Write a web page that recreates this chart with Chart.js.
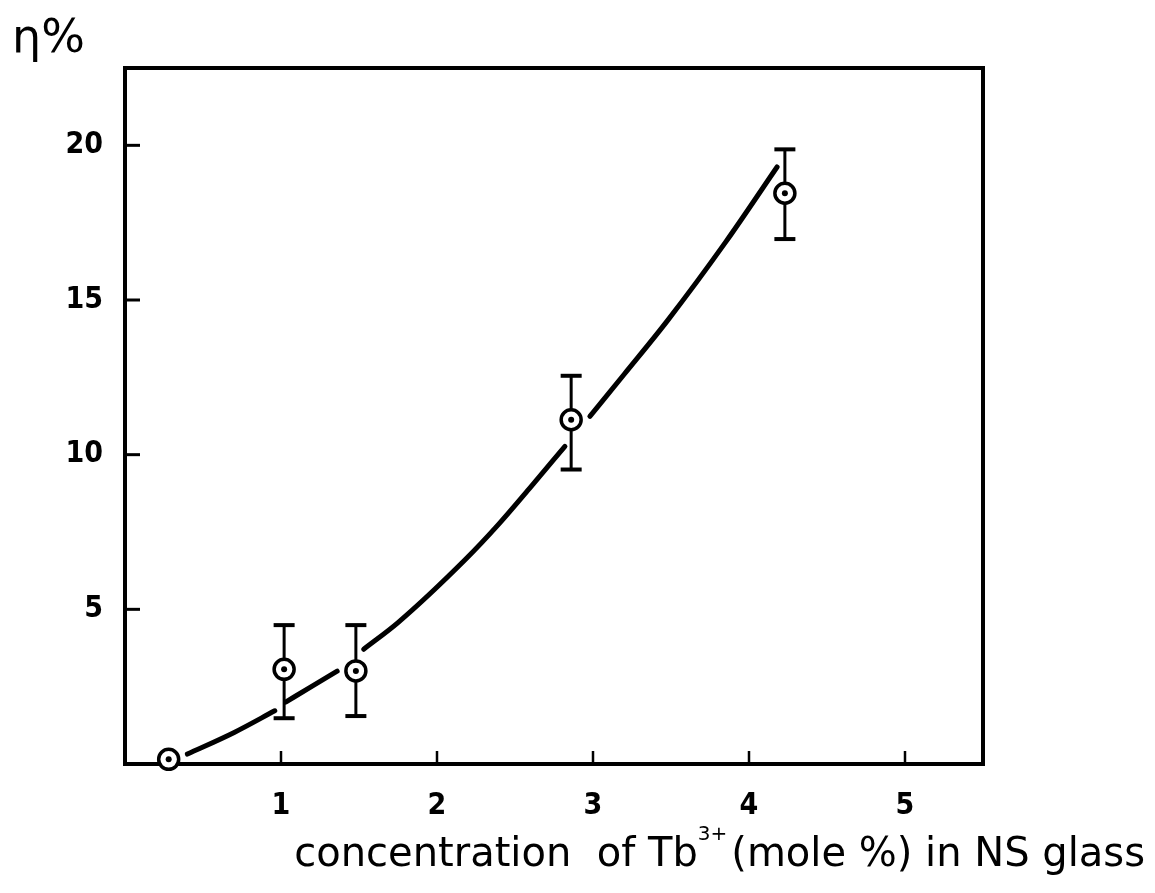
<!DOCTYPE html>
<html>
<head>
<meta charset="utf-8">
<script src="https://cdn.jsdelivr.net/npm/chart.js@4/dist/chart.umd.min.js"></script>
<style>
  html, body { margin: 0; padding: 0; background: #fff; }
  #wrap { width: 1155px; height: 893px; }
</style>
</head>
<body>
<div id="wrap"><canvas id="c" width="1155" height="893"></canvas></div>
<script>
// ---- data ----
const xTicks = [1, 2, 3, 4, 5];
const yTicks = [5, 10, 15, 20];
const concentration = [0.28, 1.02, 1.48, 2.86, 4.23];      // Tb3+ mole %
const efficiency    = [0.15, 3.06, 3.01, 11.13, 18.45];     // eta %
const errLow        = [null, 1.48, 1.55, 9.52, 16.97];
const errHigh       = [null, 4.49, 4.49, 12.55, 19.87];
// hand-drawn fit curve (broken where it passes the markers); null = gap
const curveX = [0.40, 0.70, 0.96, null, 1.03, 1.20, 1.36, null, 1.53, 1.75, 2.18, 2.39, 2.60, 2.82, null, 2.98, 3.20, 3.48, 3.85, 4.18];
const curveY = [0.32, 1.02, 1.72, null, 2.00, 2.52, 3.00, null, 3.71, 4.57, 6.60, 7.72, 8.95, 10.27, null, 11.24, 12.60, 14.35, 16.87, 19.30];
const yTitle = 'η%';
const xTitleA = 'concentration  of Tb';
const xTitleSup = '3+';
const xTitleB = '(mole %) in NS glass';

// ---- build datasets ----
let lastX = 0;
const curveData = curveX.map((x, i) => {
  if (x === null) return { x: lastX, y: null };
  lastX = x;
  return { x: x, y: curveY[i] };
});
const pointData = concentration.map((x, i) => ({ x: x, y: efficiency[i] }));

const datasets = [];
// center dots (top)
datasets.push({
  data: pointData, showLine: false, pointRadius: 3, pointHoverRadius: 3,
  pointBackgroundColor: '#000', pointBorderWidth: 0, order: 0, clip: false
});
// open circles
datasets.push({
  data: pointData, showLine: false, pointRadius: 10, pointHoverRadius: 10,
  pointBackgroundColor: '#fff', pointBorderColor: '#000', pointBorderWidth: 3.5, order: 1, clip: false
});
// error bars
concentration.forEach((x, i) => {
  if (errLow[i] === null) return;
  datasets.push({
    data: [{ x: x, y: errLow[i] }, { x: x, y: errHigh[i] }],
    showLine: true, borderColor: '#000', borderWidth: 3,
    pointStyle: 'line', pointRadius: 10.5, pointHoverRadius: 10.5,
    pointBorderColor: '#000', pointBorderWidth: 4, order: 2
  });
});
// curve
datasets.push({
  data: curveData, showLine: true, spanGaps: false, borderColor: '#000', borderWidth: 5,
  borderCapStyle: 'round', cubicInterpolationMode: 'monotone', pointRadius: 0, order: 3
});

const framePlugin = {
  id: 'frame',
  beforeDatasetsDraw(chart) {
    const { ctx, chartArea: a, scales: { x, y } } = chart;
    ctx.save();
    ctx.strokeStyle = '#000';
    ctx.lineWidth = 4;
    ctx.strokeRect(a.left, a.top, a.right - a.left, a.bottom - a.top);
    ctx.lineWidth = 3;
    yTicks.forEach(v => {
      const py = y.getPixelForValue(v);
      ctx.beginPath(); ctx.moveTo(a.left, py); ctx.lineTo(a.left + 15, py); ctx.stroke();
    });
    ctx.lineWidth = 2.5;
    xTicks.forEach(v => {
      const px = x.getPixelForValue(v);
      ctx.beginPath(); ctx.moveTo(px, a.bottom); ctx.lineTo(px, a.bottom - 13); ctx.stroke();
    });
    ctx.restore();
  },
  afterDraw(chart) {
    const { ctx } = chart;
    ctx.save();
    ctx.fillStyle = '#000';
    ctx.textBaseline = 'alphabetic';
    ctx.textAlign = 'left';
    ctx.font = '46px "DejaVu Sans"';
    ctx.fillText(yTitle, 12, 52);
    // x axis title
    const big = '40px "DejaVu Sans"';
    const small = '20px "DejaVu Sans"';
    ctx.font = big; const wA = ctx.measureText(xTitleA).width;
    const wB = ctx.measureText(xTitleB).width;
    ctx.font = small; const wS = ctx.measureText(xTitleSup).width;
    const total = wA + wS + 4 + wB;
    const right = 1145, base = 866;
    let xx = right - total;
    ctx.font = big; ctx.fillText(xTitleA, xx, base); xx += wA;
    ctx.font = small; ctx.fillText(xTitleSup, xx, base - 26); xx += wS + 4;
    ctx.font = big; ctx.fillText(xTitleB, xx, base);
    ctx.restore();
  }
};

const tickFont = { family: '"Liberation Sans Narrow", "DejaVu Sans Condensed", sans-serif', size: 30, weight: 'bold' };

new Chart(document.getElementById('c'), {
  type: 'line',
  data: { datasets: datasets },
  options: {
    responsive: false,
    animation: false,
    events: [],
    layout: { padding: { top: 68, left: 55, right: 172, bottom: 72 } },
    plugins: { legend: { display: false }, tooltip: { enabled: false }, title: { display: false } },
    scales: {
      x: {
        type: 'linear', min: 0, max: 5.5,
        grid: { display: false, drawTicks: false },
        border: { display: false },
        afterFit(s) { s.height = 57; },
        ticks: {
          stepSize: 1, includeBounds: false, padding: 24, color: '#000', font: tickFont,
          maxRotation: 0,
          callback: v => (xTicks.includes(v) ? String(v) : '')
        }
      },
      y: {
        type: 'linear', min: 0, max: 22.5,
        grid: { display: false, drawTicks: false },
        border: { display: false },
        afterFit(s) { s.width = 70; },
        ticks: {
          stepSize: 5, includeBounds: false, padding: 22, color: '#000', font: tickFont,
          callback: v => (yTicks.includes(v) ? String(v) : '')
        }
      }
    }
  },
  plugins: [framePlugin]
});
</script>
</body>
</html>
